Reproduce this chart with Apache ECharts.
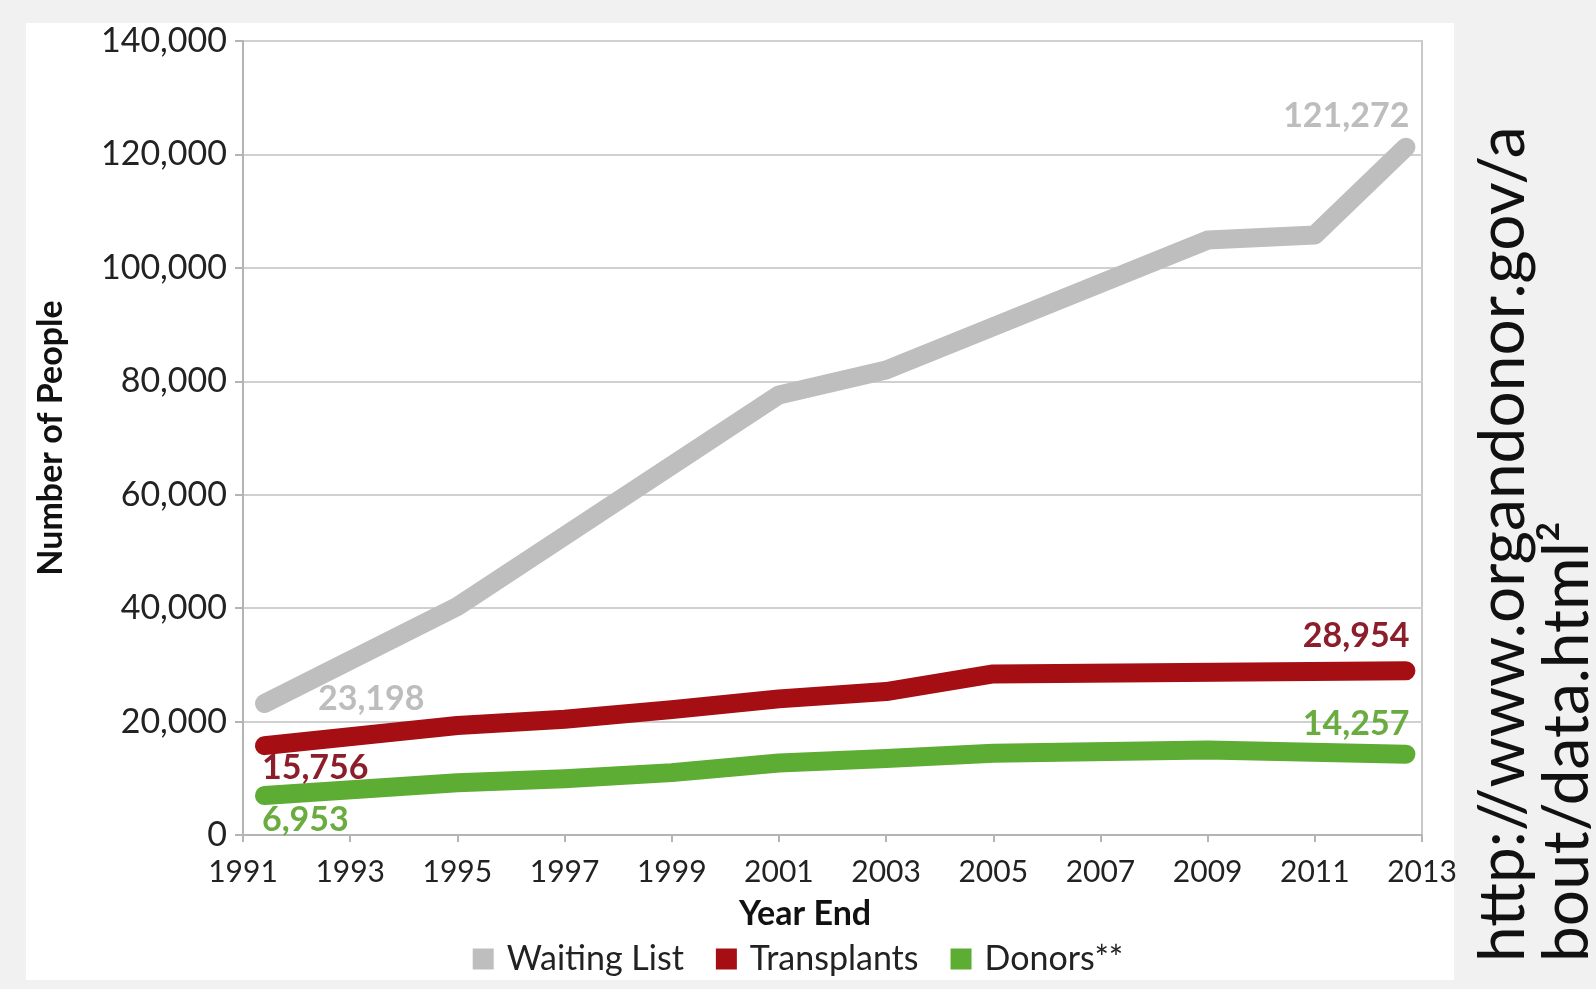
<!DOCTYPE html>
<html>
<head>
<meta charset="utf-8">
<title>Organ donation: waiting list, transplants and donors</title>
<script src="https://cdn.jsdelivr.net/npm/echarts@6/dist/echarts.min.js"></script>
<style>
  html, body { margin: 0; padding: 0; background: #f1f1f1; }
  #chart { width: 1596px; height: 989px; }
</style>
</head>
<body>
<div id="chart"></div>
<script>
// Year-end counts (x = year, y = number of people)
const seriesNames = ['Waiting List', 'Transplants', 'Donors**'];

const waitingYears = [1991.4, 1995, 2001, 2003, 2009, 2011, 2012.7];
const waitingList  = [23198, 40300, 77600, 82000, 104900, 105800, 121272];

const transplantYears = [1991.4, 1995, 1997, 1999, 2001, 2003, 2005, 2012.7];
const transplants     = [15756, 19300, 20400, 22100, 24000, 25300, 28400, 28954];

const donorYears = [1991.4, 1995, 1997, 1999, 2001, 2003, 2005, 2009, 2012.7];
const donors     = [6953, 9200, 9900, 11000, 12700, 13500, 14400, 15000, 14257];

// Axis ranges
const yearMin = 1991, yearMax = 2013, yearStep = 2;
const peopleMin = 0, peopleMax = 140000, peopleStep = 20000;

const sourceLines = ['http://www.organdonor.gov/a', 'bout/data.html\u00B2'];

const FONT = 'Lato';
const fmt = v => v.toLocaleString('en-US');

// Build line data; the first and last points carry value labels
function buildData(years, values, labelColor, firstPos, lastPos) {
  return years.map((yr, i) => {
    const item = { value: [yr, values[i]] };
    const isFirst = i === 0, isLast = i === years.length - 1;
    if (isFirst || isLast) {
      const p = isFirst ? firstPos : lastPos;
      item.label = {
        show: true,
        position: p.pos,
        align: p.align,
        verticalAlign: 'middle',
        color: labelColor,
        fontFamily: FONT,
        fontWeight: 'bold',
        fontSize: 34,
        formatter: q => fmt(q.value[1])
      };
    }
    return item;
  });
}

function lineSeries(name, color, data) {
  return {
    name: name,
    type: 'line',
    data: data,
    symbol: 'circle',
    symbolSize: 1,
    showSymbol: true,
    itemStyle: { color: color },
    lineStyle: { color: color, width: 19, cap: 'round', join: 'round' },
    emphasis: { disabled: true },
    label: { show: false }
  };
}

const chart = echarts.init(document.getElementById('chart'), null, { renderer: 'canvas' });

chart.setOption({
  animation: false,
  backgroundColor: '#f1f1f1',
  color: ['#b9b9b9', '#b01c1f', '#5fb33a'],
  grid: {
    left: 243, right: 174, top: 41, bottom: 154,
    show: true, borderColor: '#c9c9c9', borderWidth: 2,
    backgroundColor: 'transparent'
  },
  xAxis: {
    type: 'value',
    min: yearMin, max: yearMax, interval: yearStep,
    axisLine: { show: true, lineStyle: { color: '#b4b4b4', width: 2 } },
    axisTick: { show: true, length: 7, lineStyle: { color: '#b4b4b4', width: 2 } },
    splitLine: { show: false },
    axisLabel: {
      margin: 22, color: '#222', fontFamily: FONT, fontSize: 30,
      formatter: v => String(v)
    }
  },
  yAxis: {
    type: 'value',
    min: peopleMin, max: peopleMax, interval: peopleStep,
    name: 'Number of People',
    nameLocation: 'middle',
    nameRotate: 90,
    nameGap: 175,
    nameTextStyle: { color: '#111', fontFamily: FONT, fontWeight: 'bold', fontSize: 34 },
    axisLine: { show: true, lineStyle: { color: '#b4b4b4', width: 2 } },
    axisTick: { show: true, length: 8, lineStyle: { color: '#b4b4b4', width: 2 } },
    splitLine: { show: true, lineStyle: { color: '#d0d0d0', width: 2 } },
    axisLabel: {
      margin: 16, color: '#222', fontFamily: FONT, fontSize: 34,
      formatter: v => fmt(v)
    }
  },
  legend: {
    data: seriesNames,
    left: 'center',
    top: 937,
    icon: 'rect',
    itemWidth: 21,
    itemHeight: 21,
    itemGap: 32,
    textStyle: { color: '#222', fontFamily: FONT, fontSize: 34, padding: [0, 0, 0, 8] }
  },
  graphic: {
    elements: [
      {
        type: 'rect', z: -100, silent: true,
        shape: { x: 26, y: 23, width: 1428, height: 957 },
        style: { fill: '#ffffff' }
      },
      {
        type: 'text', silent: true,
        x: 805, y: 914,
        style: {
          text: 'Year End', align: 'center', verticalAlign: 'middle',
          fill: '#111', font: 'bold 34px ' + FONT
        }
      },
      {
        type: 'text', silent: true,
        x: 1471, y: 962,
        rotation: Math.PI / 2,
        style: {
          text: sourceLines.join('\n'), align: 'left', verticalAlign: 'top',
          fill: '#111', font: 'normal 64px ' + FONT, lineHeight: 64
        }
      }
    ]
  },
  series: [
    lineSeries(seriesNames[0], '#bfbebe',
      buildData(waitingYears, waitingList, '#bdbdbd',
        { pos: [54, -4], align: 'left' }, { pos: [4, -31], align: 'right' })),
    lineSeries(seriesNames[1], '#a50e12',
      buildData(transplantYears, transplants, '#8c1d2b',
        { pos: [-2, 23], align: 'left' }, { pos: [4, -34], align: 'right' })),
    lineSeries(seriesNames[2], '#5dac34',
      buildData(donorYears, donors, '#6aac3f',
        { pos: [-2, 25], align: 'left' }, { pos: [4, -30], align: 'right' }))
  ]
});
</script>
</body>
</html>
